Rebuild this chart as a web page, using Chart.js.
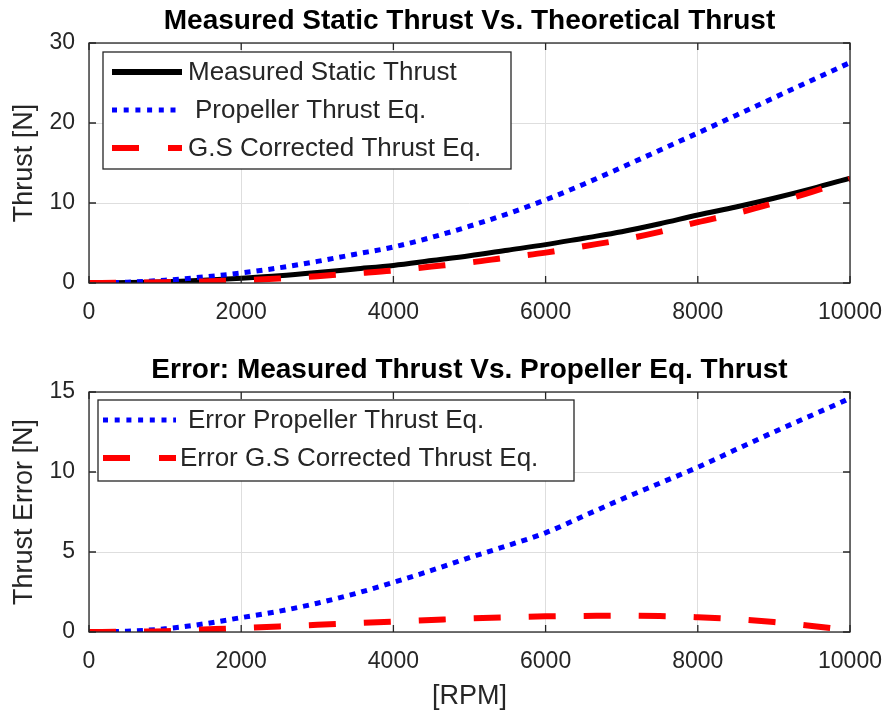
<!DOCTYPE html>
<html lang="en">
<head>
    <meta charset="UTF-8">
    <title>Measured Static Thrust Vs. Theoretical Thrust</title>
    <style>
        body {
            margin: 0;
            background: #ffffff;
            font-family: "Liberation Sans", Arial, sans-serif;
        }
        .plot {
            position: absolute;
            left: 0;
        }
        #thrustChart { top: 0; }
        #errorChart { top: 349px; }
    </style>
</head>
<body>
    <canvas id="thrustChart" class="plot" width="889" height="349"></canvas>
    <canvas id="errorChart" class="plot" width="889" height="365"></canvas>

    <script src="https://cdn.jsdelivr.net/npm/chart.js"></script>
    <script>
        // --- data ---
        const rpm = [0, 500, 1000, 1500, 2000, 2500, 3000, 3500, 4000, 4500, 5000,
                     5500, 6000, 6500, 7000, 7500, 8000, 8500, 9000, 9500, 10000];
        const measuredThrust = [0, 0.05, 0.15, 0.35, 0.6, 0.9, 1.3, 1.75, 2.2, 2.8, 3.4,
                                4.1, 4.8, 5.6, 6.4, 7.4, 8.5, 9.5, 10.6, 11.8, 13.1];
        const propellerThrust = [0, 0.1, 0.35, 0.75, 1.25, 1.9, 2.7, 3.6, 4.5, 5.7, 7.1,
                                 8.65, 10.4, 12.35, 14.45, 16.6, 18.75, 20.95, 23.15, 25.35, 27.55];
        const gsCorrectedThrust = [0, 0.03, 0.1, 0.2, 0.35, 0.55, 0.85, 1.2, 1.55, 2.05, 2.55,
                                   3.2, 3.8, 4.6, 5.4, 6.4, 7.6, 8.7, 10.0, 11.4, 13.0];
        const errorPropeller = [0, 0.05, 0.2, 0.5, 0.9, 1.3, 1.8, 2.4, 3.1, 3.85, 4.65,
                                5.4, 6.2, 7.25, 8.3, 9.3, 10.3, 11.4, 12.5, 13.55, 14.6];
        const errorGsCorrected = [0, 0.02, 0.05, 0.15, 0.25, 0.35, 0.45, 0.55, 0.65, 0.75, 0.85,
                                  0.92, 0.98, 1.0, 1.02, 1.0, 0.92, 0.8, 0.62, 0.38, 0.1];

        const xTicks = [0, 2000, 4000, 6000, 8000, 10000];
        const thrustTicks = [0, 10, 20, 30];
        const errorTicks = [0, 5, 10, 15];

        const axisColor = '#262626';
        const gridColor = '#dedede';
        const fontFamily = '"Liberation Sans", Arial, Helvetica, sans-serif';

        const toPoints = (ys) => rpm.map((r, i) => ({ x: r, y: ys[i] }));

        // MATLAB style box, inner ticks and boxed legend
        const matlabAxes = {
            id: 'matlabAxes',
            afterDraw(chart, args, opts) {
                const ctx = chart.ctx;
                const a = chart.chartArea;
                const xs = chart.scales.x;
                const ys = chart.scales.y;
                ctx.save();
                ctx.strokeStyle = axisColor;
                ctx.lineWidth = 1.3;
                ctx.strokeRect(a.left, a.top, a.right - a.left, a.bottom - a.top);

                // inner tick marks
                const tl = 7;
                ctx.beginPath();
                xs.ticks.forEach(t => {
                    const px = xs.getPixelForValue(t.value);
                    ctx.moveTo(px, a.bottom); ctx.lineTo(px, a.bottom - tl);
                    ctx.moveTo(px, a.top); ctx.lineTo(px, a.top + tl);
                });
                ys.ticks.forEach(t => {
                    const py = ys.getPixelForValue(t.value);
                    ctx.moveTo(a.left, py); ctx.lineTo(a.left + tl, py);
                    ctx.moveTo(a.right, py); ctx.lineTo(a.right - tl, py);
                });
                ctx.stroke();

                // legend
                const lg = opts.legend;
                const bx = a.left + lg.left;
                const by = a.top + lg.top;
                ctx.fillStyle = '#ffffff';
                ctx.fillRect(bx, by, lg.width, lg.height);
                ctx.strokeStyle = axisColor;
                ctx.lineWidth = 1.3;
                ctx.strokeRect(bx, by, lg.width, lg.height);

                ctx.font = '26px ' + fontFamily;
                ctx.textBaseline = 'middle';
                ctx.textAlign = 'left';
                lg.items.forEach((it, i) => {
                    const y = by + lg.firstRow + i * lg.rowGap;
                    ctx.beginPath();
                    ctx.strokeStyle = it.color;
                    ctx.lineWidth = it.width;
                    ctx.setLineDash(it.dash);
                    ctx.moveTo(bx + lg.lineStart, y);
                    ctx.lineTo(bx + lg.lineEnd, y);
                    ctx.stroke();
                    ctx.setLineDash([]);
                    ctx.fillStyle = axisColor;
                    ctx.fillText(it.text, bx + it.textX, y + 1);
                });
                ctx.restore();
            }
        };

        function axisOptions(yTicks, yTitle, xTitle, xHeight) {
            return {
                x: {
                    type: 'linear',
                    min: 0,
                    max: 10000,
                    afterBuildTicks: (s) => { s.ticks = xTicks.map(v => ({ value: v })); },
                    afterFit: (s) => {
                        s.height = xHeight;
                        s.paddingLeft = 0;
                        s.paddingRight = 0;
                    },
                    border: { display: false },
                    grid: { color: gridColor, lineWidth: 1, drawTicks: false },
                    ticks: {
                        color: axisColor,
                        padding: 16,
                        maxRotation: 0,
                        font: { family: fontFamily, size: 23 },
                        callback: (v) => String(v)
                    },
                    title: {
                        display: !!xTitle,
                        text: xTitle,
                        color: axisColor,
                        font: { family: fontFamily, size: 27, lineHeight: 1.2 },
                        padding: { top: 0, bottom: 1 }
                    }
                },
                y: {
                    min: yTicks[0],
                    max: yTicks[yTicks.length - 1],
                    afterBuildTicks: (s) => { s.ticks = yTicks.map(v => ({ value: v })); },
                    afterFit: (s) => { s.width = 89; },
                    border: { display: false },
                    grid: { color: gridColor, lineWidth: 1, drawTicks: false },
                    ticks: {
                        color: axisColor,
                        padding: 14,
                        font: { family: fontFamily, size: 23 }
                    },
                    title: {
                        display: true,
                        text: yTitle,
                        color: axisColor,
                        font: { family: fontFamily, size: 27, lineHeight: 1.2 },
                        padding: { top: 8, bottom: 0 }
                    }
                }
            };
        }

        function titleOptions(text) {
            return {
                display: true,
                fullSize: false,
                text: text,
                color: '#000000',
                font: { family: fontFamily, size: 28, weight: 'bold', lineHeight: 1.2 },
                padding: { top: 4, bottom: 5.4 }
            };
        }

        const blueDash = [6, 6];
        const redDash = [27, 28];

        // top plot
        new Chart(document.getElementById('thrustChart'), {
            type: 'line',
            data: {
                datasets: [
                    {
                        label: 'Measured Static Thrust',
                        data: toPoints(measuredThrust),
                        borderColor: '#000000',
                        borderWidth: 5,
                        order: 3
                    },
                    {
                        label: 'Propeller Thrust Eq.',
                        data: toPoints(propellerThrust),
                        borderColor: '#0000ff',
                        borderWidth: 5,
                        borderDash: blueDash,
                        order: 2
                    },
                    {
                        label: 'G.S Corrected Thrust Eq.',
                        data: toPoints(gsCorrectedThrust),
                        borderColor: '#ff0000',
                        borderWidth: 6,
                        borderDash: redDash,
                        order: 1
                    }
                ]
            },
            options: {
                responsive: false,
                animation: false,
                layout: { padding: { left: 0, right: 39, top: 0, bottom: 0 } },
                elements: {
                    point: { radius: 0 },
                    line: { cubicInterpolationMode: 'monotone', borderCapStyle: 'butt' }
                },
                scales: axisOptions(thrustTicks, 'Thrust [N]', '', 66),
                plugins: {
                    legend: { display: false },
                    tooltip: { enabled: false },
                    title: titleOptions('Measured Static Thrust Vs. Theoretical Thrust'),
                    matlabAxes: {
                        legend: {
                            left: 14, top: 9, width: 408, height: 117,
                            firstRow: 20, rowGap: 38, lineStart: 9, lineEnd: 79,
                            items: [
                                { text: 'Measured Static Thrust', color: '#000000', width: 6, dash: [], textX: 85 },
                                { text: 'Propeller Thrust Eq.', color: '#0000ff', width: 5, dash: [5, 6.7], textX: 92 },
                                { text: 'G.S Corrected Thrust Eq.', color: '#ff0000', width: 6, dash: [27, 29], textX: 85 }
                            ]
                        }
                    }
                }
            },
            plugins: [matlabAxes]
        });

        // bottom plot
        new Chart(document.getElementById('errorChart'), {
            type: 'line',
            data: {
                datasets: [
                    {
                        label: 'Error Propeller Thrust Eq.',
                        data: toPoints(errorPropeller),
                        borderColor: '#0000ff',
                        borderWidth: 5,
                        borderDash: blueDash,
                        order: 2
                    },
                    {
                        label: 'Error G.S Corrected Thrust Eq.',
                        data: toPoints(errorGsCorrected),
                        borderColor: '#ff0000',
                        borderWidth: 6,
                        borderDash: redDash,
                        order: 1
                    }
                ]
            },
            options: {
                responsive: false,
                animation: false,
                layout: { padding: { left: 0, right: 39, top: 0, bottom: 0 } },
                elements: {
                    point: { radius: 0 },
                    line: { cubicInterpolationMode: 'monotone', borderCapStyle: 'butt' }
                },
                scales: axisOptions(errorTicks, 'Thrust Error [N]', '[RPM]', 82),
                plugins: {
                    legend: { display: false },
                    tooltip: { enabled: false },
                    title: titleOptions('Error: Measured Thrust Vs. Propeller Eq. Thrust'),
                    matlabAxes: {
                        legend: {
                            left: 9, top: 8, width: 476, height: 81,
                            firstRow: 20, rowGap: 38, lineStart: 5, lineEnd: 78,
                            items: [
                                { text: 'Error Propeller Thrust Eq.', color: '#0000ff', width: 5, dash: [5, 6.7], textX: 90 },
                                { text: 'Error G.S Corrected Thrust Eq.', color: '#ff0000', width: 6, dash: [27, 29], textX: 82 }
                            ]
                        }
                    }
                }
            },
            plugins: [matlabAxes]
        });
    </script>
</body>
</html>
